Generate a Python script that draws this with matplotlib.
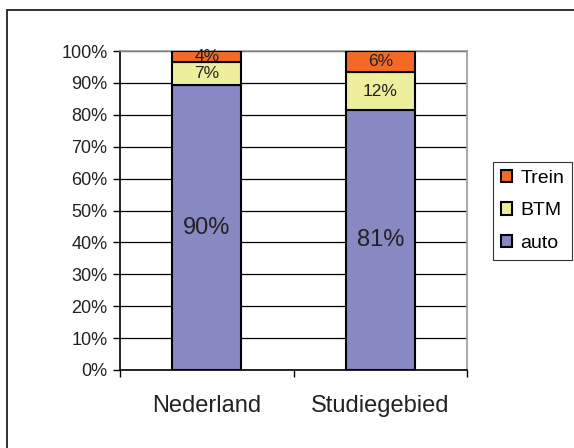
import matplotlib
matplotlib.use("Agg")
import matplotlib.pyplot as plt
from matplotlib.patches import Rectangle
import numpy as np

plt.rcParams['font.family'] = ['Liberation Sans', 'DejaVu Sans']

categories = ["Nederland", "Studiegebied"]
auto = [89.2, 81.5]
btm = [7.2, 11.9]
trein = [3.6, 6.6]
auto_labels = ["90%", "81%"]
btm_labels = ["7%", "12%"]
trein_labels = ["4%", "6%"]
yticks = [0, 10, 20, 30, 40, 50, 60, 70, 80, 90, 100]

c_auto = "#8888c2"
c_btm = "#eeef9d"
c_trein = "#f26a26"

fig = plt.figure(figsize=(5.74, 4.48), dpi=100)
# outer frame
fig.patches.append(Rectangle((7/574, -1), 2.0, 2 - 10/448, transform=fig.transFigure,
                             fill=False, edgecolor="#222222", linewidth=1.3))

ax = fig.add_axes([120/574, 1 - 370/448, 347/574, 319/448])
x = np.arange(len(categories))
w = 0.4
b1 = ax.bar(x, auto, w, color=c_auto, edgecolor="black", linewidth=1.5, label="auto", zorder=3)
b2 = ax.bar(x, btm, w, bottom=auto, color=c_btm, edgecolor="black", linewidth=1.5, label="BTM", zorder=3)
bot3 = [a + b for a, b in zip(auto, btm)]
b3 = ax.bar(x, trein, w, bottom=bot3, color=c_trein, edgecolor="black", linewidth=1.5, label="Trein", zorder=3)

for i in range(len(categories)):
    ax.text(x[i], auto[i] / 2, auto_labels[i], ha="center", va="center", fontsize=17, color="#222222", zorder=4)
    ax.text(x[i], auto[i] + btm[i] / 2, btm_labels[i], ha="center", va="center", fontsize=12.5, color="#222222", zorder=4)
    ax.text(x[i], bot3[i] + trein[i] / 2, trein_labels[i], ha="center", va="center", fontsize=12.5, color="#222222", zorder=4)

ax.set_xlim(-0.5, len(categories) - 0.5)
ax.set_ylim(0, 100)
ax.set_yticks(yticks)
ax.set_yticklabels([f"{v}%" for v in yticks], fontsize=13, color="#222222")
ax.yaxis.grid(True, color="black", linewidth=0.9, zorder=0)
ax.set_axisbelow(True)
ax.tick_params(axis="y", direction="out", length=5, width=1, pad=4)

ax.set_xticks([-0.5, 0.5, 1.5])
ax.set_xticklabels([])
ax.tick_params(axis="x", direction="out", length=5, width=1)
ax.set_xticks(x, minor=True)
ax.set_xticklabels(categories, minor=True, fontsize=17, color="#222222")
ax.tick_params(axis="x", which="minor", length=0, pad=18)

for s in ["top", "right"]:
    ax.spines[s].set_color("#999999")
    ax.spines[s].set_linewidth(1.2)
for s in ["left", "bottom"]:
    ax.spines[s].set_color("black")
    ax.spines[s].set_linewidth(1.2)

leg = fig.legend(handles=[b3, b2, b1], labels=["Trein", "BTM", "auto"],
                 loc="upper left", bbox_to_anchor=(493/574, 1 - 162/448),
                 fontsize=14, frameon=True, fancybox=False, edgecolor="black",
                 handlelength=0.6, handleheight=0.6, handletextpad=0.4,
                 labelspacing=0.8, borderpad=0.4, borderaxespad=0)
leg.get_frame().set_linewidth(0.8)

fig.savefig("out.png", dpi=100)
